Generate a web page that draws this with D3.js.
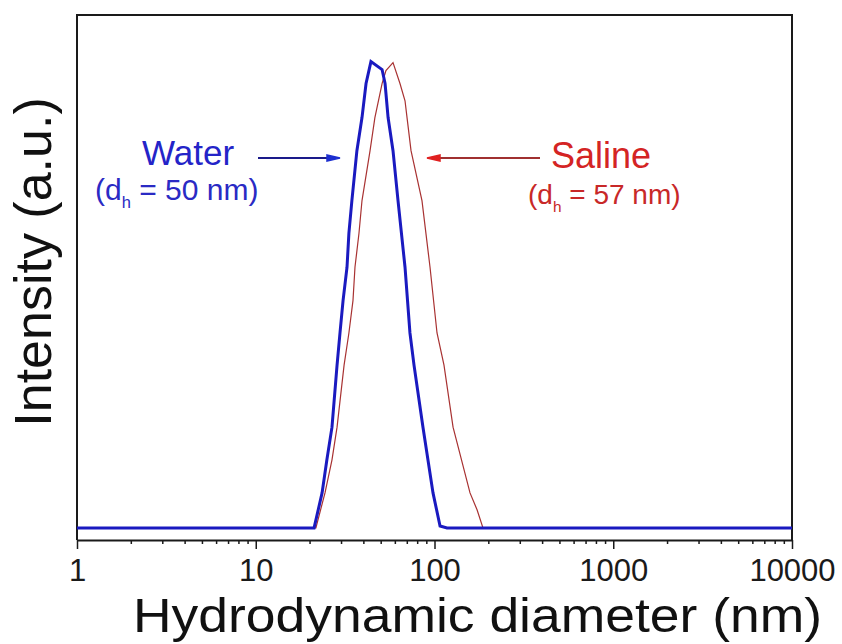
<!DOCTYPE html>
<html>
<head>
<meta charset="utf-8">
<script src="https://cdn.jsdelivr.net/npm/d3@7"></script>
<style>
  html, body { margin: 0; padding: 0; background: #fff; }
  svg { display: block; font-family: "Liberation Sans", Arial, sans-serif; }
</style>
</head>
<body>
<svg id="chart" width="842" height="644"></svg>
<script>
// ---- data ----
const waterDiameter = [1, 21.2, 23.5, 25.0, 26.7, 28.5, 29.6, 30.8, 32.4, 33.2, 34.5, 36.8, 39.3, 41.4, 44.1, 50.9, 52.9, 55.0, 58.6, 62.5, 68.4, 72.9, 76.8, 86.2, 98.1, 107.4, 117.5, 10000];
const waterIntensity = [0, 0, 7.5, 14.6, 21.6, 34.9, 41.8, 48.8, 55.9, 63.2, 70.2, 80.9, 88.0, 95.3, 100, 98.3, 95.3, 88.0, 80.9, 70.2, 55.9, 41.8, 34.9, 21.6, 7.5, 0.4, 0, 0];
const salineDiameter = [1, 21.7, 24.4, 26.7, 28.5, 31.2, 33.2, 35.0, 35.9, 37.8, 39.3, 43.6, 46.4, 50.9, 53.5, 58.6, 64.1, 68.4, 70.2, 73.9, 85.1, 94.4, 103.3, 113.0, 127.0, 158.0, 173.0, 186.7, 10000];
const salineIntensity = [0, 0, 7.5, 14.6, 21.6, 34.9, 41.8, 48.8, 55.9, 63.2, 70.2, 80.9, 88.0, 95.3, 98.1, 99.8, 95.3, 91.6, 88.0, 80.9, 70.2, 55.9, 41.8, 34.9, 21.6, 7.5, 3.9, 0, 0];
const xTickValues = [1, 10, 100, 1000, 10000];
const xTickLabels = ["1", "10", "100", "1000", "10000"];
const seriesNames = ["Water", "Saline"];
const seriesDh = ["50", "57"];

// ---- layout ----
const svg = d3.select("#chart");
const L = 77, R = 792, T = 15, B = 540;

const x = d3.scaleLog().domain([1, 10000]).range([L, R]);
const y = d3.scaleLinear().domain([-2.6, 110]).range([B, T]);

// minor ticks
const minorTicks = [];
for (let d = 1; d < 10000; d *= 10) for (let k = 2; k <= 9; k++) minorTicks.push(d * k);

const axisColor = "#1a1a1a";
const xAxisMajor = d3.axisBottom(x).tickValues(xTickValues)
  .tickFormat((d, i) => xTickLabels[i]).tickSize(9).tickSizeOuter(0).tickPadding(10);
const xAxisMinor = d3.axisBottom(x).tickValues(minorTicks).tickFormat("").tickSize(4).tickSizeOuter(0);

const gMinor = svg.append("g").attr("transform", `translate(0,${B})`).call(xAxisMinor);
gMinor.select(".domain").remove();
gMinor.selectAll("line").attr("stroke", axisColor).attr("stroke-width", 1.5);

const gMajor = svg.append("g").attr("transform", `translate(0,${B})`).call(xAxisMajor);
gMajor.select(".domain").attr("stroke", axisColor).attr("stroke-width", 2);
gMajor.selectAll("line").attr("stroke", axisColor).attr("stroke-width", 1.5);
gMajor.selectAll("text").attr("font-size", 31).attr("fill", "#1a1a1a")
  .attr("font-family", "Liberation Sans, Arial, sans-serif");

// frame (top, left, right)
svg.append("path")
  .attr("d", `M${L},${B} V${T} H${R} V${B}`)
  .attr("fill", "none").attr("stroke", axisColor).attr("stroke-width", 2);

// lines
const line = d3.line().x(d => x(d[0])).y(d => y(d[1]));
const salinePts = salineDiameter.map((d, i) => [d, salineIntensity[i]]);
const waterPts = waterDiameter.map((d, i) => [d, waterIntensity[i]]);

svg.append("path").datum(salinePts).attr("d", line)
  .attr("fill", "none").attr("stroke", "#a83232").attr("stroke-width", 1.2);
svg.append("path").datum(waterPts).attr("d", line)
  .attr("fill", "none").attr("stroke", "#1a1ac0").attr("stroke-width", 3).attr("stroke-linejoin", "miter");

// arrows
const arrowY = 158;
svg.append("line").attr("x1", 258).attr("x2", 330).attr("y1", arrowY).attr("y2", arrowY)
  .attr("stroke", "#1a1a8a").attr("stroke-width", 1.8);
svg.append("path").attr("d", `M327,${arrowY - 3} L340,${arrowY} L327,${arrowY + 3} Z`)
  .attr("fill", "#1d2fd0").attr("stroke", "#1d2fd0").attr("stroke-width", 1.5);

svg.append("line").attr("x1", 437).attr("x2", 540).attr("y1", arrowY).attr("y2", arrowY)
  .attr("stroke", "#a03030").attr("stroke-width", 1.8);
svg.append("path").attr("d", `M440,${arrowY - 3} L427,${arrowY} L440,${arrowY + 3} Z`)
  .attr("fill", "#e02020").attr("stroke", "#e02020").attr("stroke-width", 1.5);

// labels
function dhLabel(xp, yp, val, color, fs) {
  const t = svg.append("text").attr("x", xp).attr("y", yp)
    .attr("font-size", fs).attr("fill", color);
  t.append("tspan").text("(d");
  t.append("tspan").attr("font-size", fs * 0.55).attr("dy", 8).text("h");
  t.append("tspan").attr("dy", -8).text(" = " + val + " nm)");
}
svg.append("text").attr("x", 142).attr("y", 165).attr("font-size", 35)
  .attr("fill", "#2424c8").text(seriesNames[0]);
dhLabel(95, 200, seriesDh[0], "#2a2ac4", 30);

svg.append("text").attr("x", 551).attr("y", 168).attr("font-size", 36)
  .attr("fill", "#d42424").text(seriesNames[1]);
dhLabel(528, 204, seriesDh[1], "#c82828", 28);

// axis titles
svg.append("text").attr("x", 133).attr("y", 632)
  .attr("font-size", 48).attr("fill", "#111")
  .attr("textLength", 689).attr("lengthAdjust", "spacingAndGlyphs")
  .text("Hydrodynamic diameter (nm)");
svg.append("text").attr("transform", `translate(51,262) rotate(-90)`)
  .attr("text-anchor", "middle").attr("font-size", 52).attr("fill", "#111")
  .text("Intensity (a.u.)");
</script>
</body>
</html>
